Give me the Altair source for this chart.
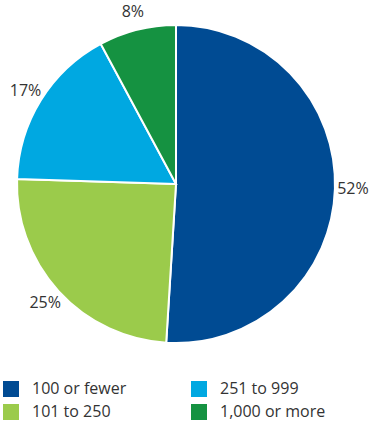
import altair as alt
import pandas as pd

# Share of organisations by number of staff
categories = ["100 or fewer", "101 to 250", "251 to 999", "1,000 or more"]
shares = [52, 25, 17, 8]
colors = ["#004B93", "#9BCB4B", "#00A8E1", "#159241"]

df = pd.DataFrame({
    "group": categories,
    "share": shares,
    "rank": list(range(len(categories))),
    "label": [f"{s}%" for s in shares],
})

color_scale = alt.Scale(domain=categories, range=colors)

base = alt.Chart(df).encode(
    theta=alt.Theta("share:Q", stack=True),
    order=alt.Order("rank:O"),
)

pie = base.mark_arc(outerRadius=159, stroke="white", strokeWidth=2).encode(
    color=alt.Color(
        "group:N",
        scale=color_scale,
        legend=alt.Legend(
            title=None,
            orient="none",
            legendX=3,
            legendY=381,
            columns=2,
            columnPadding=64,
            rowPadding=7,
            symbolType="square",
            symbolSize=256,
            symbolStrokeWidth=0,
            labelOffset=13,
            labelFontSize=16,
            labelFont="Open Sans",
            labelColor="#333333",
            labelLimit=200,
            padding=0,
        ),
    )
)

labels = base.mark_text(
    radius=177, fontSize=16, font="Open Sans", color="#333333"
).encode(text="label:N")

chart = (
    (pie + labels)
    .properties(width=352, height=368, padding=0)
    .configure_view(stroke=None)
)

chart.save("out.html", embed_options={"renderer": "svg", "actions": False})
